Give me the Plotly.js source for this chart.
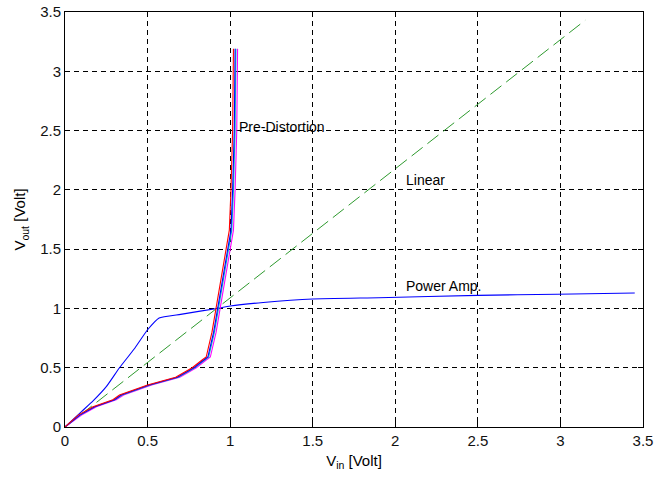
<!DOCTYPE html>
<html>
<head>
<meta charset="utf-8">
<script src="https://cdn.plot.ly/plotly-3.0.1.min.js"></script>
<style>html,body{margin:0;padding:0;background:#fff;}#chart{width:655px;height:479px;}</style>
</head>
<body>
<div id="chart"></div>
<script>
// Power amplifier characteristic
const paVin  = [0, 0.1, 0.17, 0.25, 0.33, 0.42, 0.5, 0.57, 0.7, 0.92, 1.0, 1.2, 1.5, 1.9, 2.5, 2.98, 3.45];
const paVout = [0, 0.13, 0.22, 0.34, 0.50, 0.66, 0.82, 0.92, 0.95, 1.00, 1.02, 1.05, 1.08, 1.09, 1.11, 1.12, 1.13];

// Pre-distortion characteristics (several nearly identical curves)
const pdVout = [0, 0.10, 0.17, 0.23, 0.27, 0.354, 0.42, 0.50, 0.565, 0.59, 0.80, 1.01, 1.38, 1.66, 2.0, 2.5, 3.19];
const pdVinRed     = [0, 0.08, 0.17, 0.29, 0.33, 0.50, 0.67, 0.77, 0.83, 0.855, 0.89, 0.915, 0.96, 0.995, 1.005, 1.015, 1.02];
const pdVinBlue    = [0, 0.09, 0.18, 0.30, 0.34, 0.51, 0.68, 0.78, 0.84, 0.865, 0.90, 0.925, 0.97, 1.005, 1.015, 1.025, 1.03];
const pdVinCyan    = [0, 0.09, 0.18, 0.30, 0.345, 0.515, 0.685, 0.785, 0.845, 0.87, 0.905, 0.93, 0.975, 1.01, 1.02, 1.03, 1.035];
const pdVinMagenta = [0, 0.10, 0.19, 0.31, 0.355, 0.525, 0.695, 0.795, 0.855, 0.88, 0.915, 0.94, 0.985, 1.02, 1.03, 1.04, 1.045];

// Linear reference
const linVin  = [0, 3.15];
const linVout = [0, 3.43];

const xTicks = [0, 0.5, 1, 1.5, 2, 2.5, 3, 3.5];
const yTicks = [0, 0.5, 1, 1.5, 2, 2.5, 3, 3.5];

const labels = [
  {text: "Pre-Distortion", x: 1.04, y: 2.53},
  {text: "Linear", x: 2.05, y: 2.08},
  {text: "Power Amp.", x: 2.05, y: 1.19}
];

const lw = 1.1;
const traces = [
  {x: linVin, y: linVout, mode: "lines", line: {color: "#2e9a2e", width: 1, dash: "14px,6px"}},
  {x: paVin, y: paVout, mode: "lines", line: {color: "#0000ff", width: lw, shape: "spline", smoothing: 0.4}},
  {x: pdVinMagenta, y: pdVout, mode: "lines", line: {color: "#ff00ff", width: lw}},
  {x: pdVinCyan, y: pdVout, mode: "lines", line: {color: "#00bfbf", width: lw}},
  {x: pdVinBlue, y: pdVout, mode: "lines", line: {color: "#0000ff", width: lw}},
  {x: pdVinRed, y: pdVout, mode: "lines", line: {color: "#ff0000", width: lw}}
];

const axisCommon = {
  showgrid: true, gridcolor: "#000", gridwidth: 1, griddash: "5px,4px",
  zeroline: false, showline: true, linecolor: "#000", linewidth: 1, mirror: "ticks",
  ticks: "inside", ticklen: 5, tickcolor: "#000",
  tickfont: {family: "Liberation Sans, Arial, sans-serif", size: 15, color: "#111"}
};

const layout = {
  width: 655, height: 479,
  margin: {l: 65, r: 12, t: 12, b: 52},
  paper_bgcolor: "#fff", plot_bgcolor: "#fff",
  showlegend: false,
  font: {family: "Liberation Sans, Arial, sans-serif", size: 15, color: "#000"},
  xaxis: Object.assign({}, axisCommon, {
    range: [0, 3.5], tickvals: xTicks, ticktext: xTicks.map(String),
    title: {text: "V<sub>in</sub> [Volt]", font: {size: 15}, standoff: 7}
  }),
  yaxis: Object.assign({}, axisCommon, {
    range: [0, 3.5], tickvals: yTicks, ticktext: yTicks.map(String),
    title: {text: "V<sub>out</sub> [Volt]", font: {size: 15}, standoff: 10}
  }),
  annotations: labels.map(l => ({
    x: l.x, y: l.y, text: l.text, showarrow: false, xanchor: "left", yanchor: "middle",
    font: {size: 14, color: "#000"}
  }))
};

Plotly.newPlot("chart", traces, layout, {staticPlot: true});
</script>
</body>
</html>
